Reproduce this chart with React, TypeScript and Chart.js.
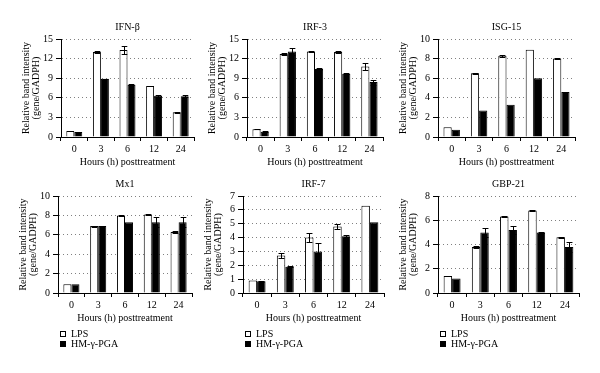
import React, { useEffect, useRef } from 'react';
import { Chart, registerables } from 'chart.js';

Chart.register(...registerables);

const categories = ['0', '3', '6', '12', '24'];
const seriesNames = ['LPS', 'HM-γ-PGA'];
const xAxisTitle = 'Hours (h) posttreatment';
const yAxisTitle = ['Relative band intensity', '(gene/GADPH)'];

const ifnLps = [0.9, 13.0, 13.3, 7.8, 3.8];
const ifnHm = [0.75, 8.9, 8.0, 6.3, 6.25];
const ifnLpsErr = [0.05, 0.12, 0.6, 0.05, 0.1];
const ifnHmErr = [0.05, 0.05, 0.05, 0.15, 0.2];

const irf3Lps = [1.2, 12.7, 13.1, 13.0, 10.8];
const irf3Hm = [0.8, 13.1, 10.4, 9.7, 8.4];
const irf3LpsErr = [0.05, 0.1, 0.1, 0.1, 0.5];
const irf3HmErr = [0.1, 0.5, 0.1, 0.05, 0.4];

const isgLps = [1.0, 6.5, 8.3, 8.9, 8.0];
const isgHm = [0.75, 2.7, 3.3, 6.0, 4.6];
const isgLpsErr = [0, 0.05, 0.1, 0, 0.05];
const isgHmErr = [0, 0, 0, 0, 0];

const mx1Lps = [0.9, 6.9, 8.0, 8.1, 6.3];
const mx1Hm = [0.9, 6.9, 7.3, 7.3, 7.3];
const mx1LpsErr = [0, 0.05, 0.05, 0.05, 0.1];
const mx1HmErr = [0, 0, 0, 0.5, 0.5];

const irf7Lps = [0.9, 2.7, 4.0, 4.8, 6.3];
const irf7Hm = [0.85, 1.9, 3.0, 4.1, 5.1];
const irf7LpsErr = [0, 0.2, 0.3, 0.2, 0];
const irf7HmErr = [0.05, 0.05, 0.6, 0.05, 0];

const gbpLps = [1.4, 3.8, 6.3, 6.8, 4.6];
const gbpHm = [1.2, 5.0, 5.2, 5.0, 3.8];
const gbpLpsErr = [0, 0.1, 0.05, 0.05, 0.05];
const gbpHmErr = [0, 0.4, 0.3, 0.05, 0.4];

const FONT = "'Liberation Serif', 'DejaVu Serif', serif";

type Panel = {
  title: string;
  lps: number[];
  hm: number[];
  lpsErr: number[];
  hmErr: number[];
  max: number;
  step: number;
  L: number;
  R: number;
  T: number;
  B: number;
  legend: boolean;
};

const panels: Panel[] = [
  { title: 'IFN-β', lps: ifnLps, hm: ifnHm, lpsErr: ifnLpsErr, hmErr: ifnHmErr, max: 15, step: 3, L: 61, R: 194, T: 39, B: 137, legend: false },
  { title: 'IRF-3', lps: irf3Lps, hm: irf3Hm, lpsErr: irf3LpsErr, hmErr: irf3HmErr, max: 15, step: 3, L: 247, R: 383, T: 39, B: 137, legend: false },
  { title: 'ISG-15', lps: isgLps, hm: isgHm, lpsErr: isgLpsErr, hmErr: isgHmErr, max: 10, step: 2, L: 438, R: 575, T: 39, B: 137, legend: false },
  { title: 'Mx1', lps: mx1Lps, hm: mx1Hm, lpsErr: mx1LpsErr, hmErr: mx1HmErr, max: 10, step: 2, L: 58, R: 192, T: 196, B: 293, legend: true },
  { title: 'IRF-7', lps: irf7Lps, hm: irf7Hm, lpsErr: irf7LpsErr, hmErr: irf7HmErr, max: 7, step: 1, L: 243, R: 384, T: 196, B: 293, legend: true },
  { title: 'GBP-21', lps: gbpLps, hm: gbpHm, lpsErr: gbpLpsErr, hmErr: gbpHmErr, max: 8, step: 2, L: 438, R: 579, T: 196, B: 293, legend: true },
];

const Y_W = 58;
const PAD_TOP = 39;
const PAD_RIGHT = 10;
const X_H = 43;
const LEGEND_H = 37;

function PanelChart({ p }: { p: Panel }) {
  const ref = useRef<HTMLCanvasElement | null>(null);
  const cl = p.L - Y_W;
  const ct = p.T - PAD_TOP;
  const cw = p.R - cl + PAD_RIGHT;
  const ch = PAD_TOP + (p.B - p.T) + X_H + (p.legend ? LEGEND_H : 0);

  useEffect(() => {
    if (!ref.current) return;
    const errs = [p.lpsErr, p.hmErr];
    const plugin = {
      id: 'panelExtras',
      afterDatasetsDraw(chart: any) {
        const ctx = chart.ctx;
        const ys = chart.scales.y;
        ctx.save();
        ctx.strokeStyle = '#000';
        ctx.lineWidth = 1;
        chart.data.datasets.forEach((ds: any, di: number) => {
          const meta = chart.getDatasetMeta(di);
          meta.data.forEach((bar: any, i: number) => {
            const e = errs[di][i];
            if (!e) return;
            const v = ds.data[i];
            const yT = Math.round(ys.getPixelForValue(v + e)) + 0.5;
            const yB = Math.round(ys.getPixelForValue(v - e)) + 0.5;
            const x = Math.round(bar.x) + 0.5;
            const hw = Math.max(2, bar.width * 0.35);
            ctx.beginPath();
            ctx.moveTo(x, yT);
            ctx.lineTo(x, yB);
            ctx.moveTo(x - hw, yT);
            ctx.lineTo(x + hw, yT);
            ctx.moveTo(x - hw, yB);
            ctx.lineTo(x + hw, yB);
            ctx.stroke();
          });
        });
        ctx.restore();
      },
      afterDraw(chart: any) {
        const ctx = chart.ctx;
        const a = chart.chartArea;
        ctx.save();
        ctx.fillStyle = '#000';
        ctx.font = `10px ${FONT}`;
        ctx.textAlign = 'center';
        ctx.textBaseline = 'middle';
        ctx.fillText(p.title, (a.left + a.right) / 2, a.top - 12);
        if (p.legend) {
          const fills = ['#fff', '#000'];
          seriesNames.forEach((name, k) => {
            const cy = a.bottom + 41 + k * 10;
            ctx.fillStyle = fills[k];
            ctx.fillRect(a.left + 2, cy - 3, 6, 6);
            ctx.strokeStyle = '#000';
            ctx.lineWidth = 1;
            ctx.strokeRect(a.left + 2.5, cy - 2.5, 5, 5);
            ctx.fillStyle = '#000';
            ctx.textAlign = 'left';
            ctx.fillText(name, a.left + 13, cy);
          });
        }
        ctx.restore();
      },
    };

    const chart = new Chart(ref.current, {
      type: 'bar',
      data: {
        labels: categories,
        datasets: [
          { label: seriesNames[0], data: p.lps, backgroundColor: '#fff', borderColor: '#000', borderWidth: 1, categoryPercentage: 0.6, barPercentage: 1.0 },
          { label: seriesNames[1], data: p.hm, backgroundColor: '#000', borderColor: '#000', borderWidth: 1, categoryPercentage: 0.6, barPercentage: 1.0 },
        ],
      },
      options: {
        responsive: false,
        animation: false,
        devicePixelRatio: 1,
        layout: { padding: { left: 0, top: PAD_TOP, right: PAD_RIGHT, bottom: p.legend ? LEGEND_H : 0 } },
        plugins: { legend: { display: false }, title: { display: false }, tooltip: { enabled: false } },
        scales: {
          x: {
            afterFit: (s: any) => { s.height = X_H; },
            grid: { display: true, drawOnChartArea: false, offset: true, tickLength: 4, tickColor: '#000', color: '#000' },
            border: { display: true, color: '#000', width: 1 },
            ticks: { color: '#000', font: { family: FONT, size: 10 }, padding: 2, autoSkip: false, maxRotation: 0 },
            title: { display: true, text: xAxisTitle, color: '#000', font: { family: FONT, size: 10 }, padding: { top: 0, bottom: 12 } },
          },
          y: {
            min: 0,
            max: p.max,
            afterFit: (s: any) => { s.width = Y_W; },
            grid: { display: true, color: '#808080', lineWidth: 1, tickLength: 5, tickColor: '#000', tickBorderDash: [] },
            border: { display: true, color: '#000', width: 1, dash: [1, 3] },
            ticks: { stepSize: p.step, color: '#000', font: { family: FONT, size: 10 }, padding: 3, autoSkip: false },
            title: { display: true, text: yAxisTitle, color: '#000', font: { family: FONT, size: 10, lineHeight: 1.0 }, padding: { top: 18, bottom: 0 } },
          },
        },
      },
      plugins: [plugin],
    } as any);
    return () => chart.destroy();
  }, []);

  return (
    <canvas
      ref={ref}
      width={cw}
      height={ch}
      style={{ position: 'absolute', left: cl, top: ct, width: cw, height: ch }}
    />
  );
}

export default function App() {
  return (
    <div style={{ position: 'fixed', left: 0, top: 0, width: 600, height: 373, background: '#fff', overflow: 'hidden' }}>
      {panels.map((p, i) => (
        <PanelChart key={i} p={p} />
      ))}
    </div>
  );
}
